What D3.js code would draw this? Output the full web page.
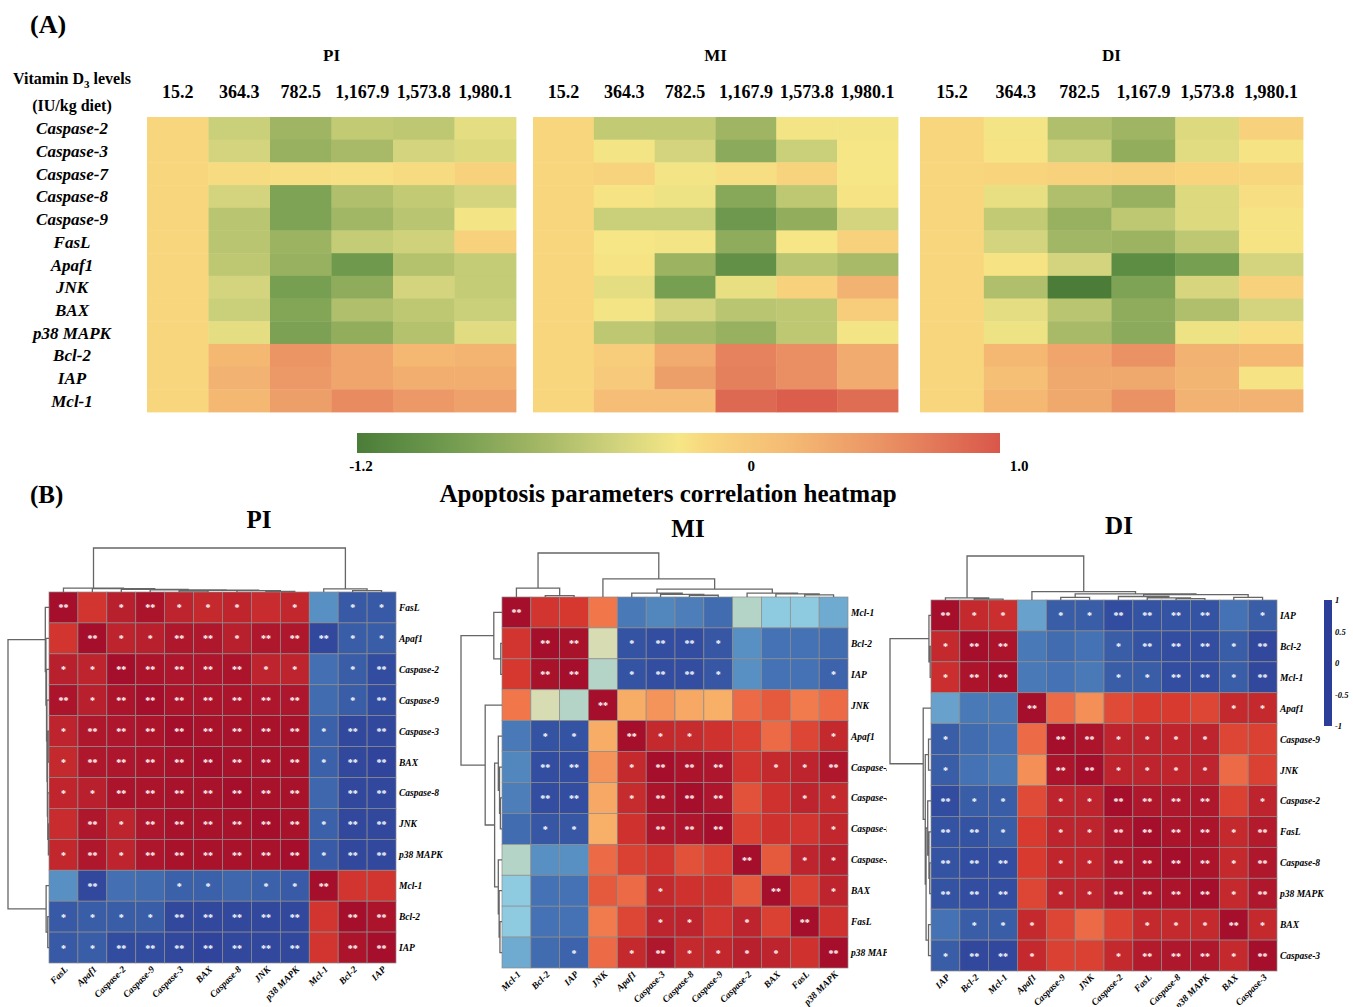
<!DOCTYPE html>
<html>
<head>
<meta charset="utf-8">
<script src="https://cdnjs.cloudflare.com/ajax/libs/d3/7.8.5/d3.min.js"></script>
<style>
  body { margin: 0; background: #fff; }
  text { font-family: "Liberation Serif", "Times New Roman", serif; }
</style>
</head>
<body>
<svg id="chart" width="1353" height="1007"></svg>
<script>
// ---------- Panel A data: relative expression by vitamin D3 level ----------
const vitLevels = ["15.2", "364.3", "782.5", "1,167.9", "1,573.8", "1,980.1"];
const genesA = ["Caspase-2", "Caspase-3", "Caspase-7", "Caspase-8", "Caspase-9", "FasL",
  "Apaf1", "JNK", "BAX", "p38 MAPK", "Bcl-2", "IAP", "Mcl-1"];
const groupsA = ["PI", "MI", "DI"];

const expPI = [
  [0, -0.35, -0.6, -0.4, -0.42, -0.2],
  [0, -0.3, -0.65, -0.55, -0.3, -0.25],
  [0, -0.03, -0.05, -0.06, -0.03, 0.05],
  [0, -0.3, -0.8, -0.5, -0.4, -0.3],
  [0, -0.45, -0.8, -0.58, -0.45, -0.12],
  [0, -0.45, -0.62, -0.38, -0.32, 0.05],
  [0, -0.42, -0.65, -0.9, -0.48, -0.38],
  [0, -0.3, -0.85, -0.7, -0.3, -0.38],
  [0, -0.35, -0.78, -0.5, -0.42, -0.35],
  [0, -0.2, -0.82, -0.68, -0.48, -0.22],
  [0, 0.3, 0.58, 0.45, 0.3, 0.33],
  [0, 0.35, 0.55, 0.45, 0.38, 0.38],
  [0, 0.3, 0.5, 0.65, 0.55, 0.48]
];
const expMI = [
  [0, -0.4, -0.4, -0.6, -0.12, -0.12],
  [0, -0.12, -0.3, -0.72, -0.35, -0.1],
  [0, 0.03, -0.12, -0.05, 0.03, -0.1],
  [0, -0.08, -0.15, -0.75, -0.42, -0.08],
  [0, -0.35, -0.35, -0.92, -0.68, -0.3],
  [0, -0.1, -0.12, -0.7, -0.1, 0.05],
  [0, -0.08, -0.62, -1.0, -0.45, -0.55],
  [0, -0.2, -0.85, -0.18, 0.05, 0.35],
  [0, -0.12, -0.3, -0.45, -0.42, 0.1],
  [0, -0.42, -0.55, -0.65, -0.42, -0.12],
  [0, 0.1, 0.4, 0.7, 0.62, 0.4],
  [0, 0.12, 0.5, 0.72, 0.62, 0.4],
  [0, 0.25, 0.25, 0.88, 0.95, 0.85]
];
const expDI = [
  [0, -0.12, -0.5, -0.6, -0.25, 0.05],
  [0, -0.08, -0.35, -0.68, -0.22, -0.08],
  [0, 0.02, 0.05, 0.06, 0.02, 0],
  [0, -0.18, -0.5, -0.65, -0.25, -0.05],
  [0, -0.4, -0.65, -0.42, -0.25, -0.08],
  [0, -0.3, -0.58, -0.62, -0.42, -0.08],
  [0, -0.08, -0.3, -1.05, -0.85, -0.3],
  [0, -0.5, -1.2, -0.8, -0.28, 0.05],
  [0, -0.2, -0.45, -0.7, -0.5, -0.3],
  [0, -0.15, -0.55, -0.72, -0.15, -0.05],
  [0, 0.3, 0.45, 0.6, 0.35, 0.3],
  [0, 0.22, 0.42, 0.42, 0.32, -0.08],
  [0, 0.3, 0.42, 0.6, 0.35, 0.35]
];
const expTicks = [-1.2, 0, 1.0];
const expTickLabels = ["-1.2", "0", "1.0"];

// ---------- Panel B data: correlation matrices ----------
const orderPI = ["FasL", "Apaf1", "Caspase-2", "Caspase-9", "Caspase-3", "BAX", "Caspase-8", "JNK", "p38 MAPK", "Mcl-1", "Bcl-2", "IAP"];
const corrPI = [
  [1, 0.78, 0.9, 0.97, 0.88, 0.85, 0.87, 0.83, 0.86, -0.62, -0.87, -0.87],
  [0.78, 1, 0.88, 0.9, 0.95, 0.95, 0.9, 0.95, 0.95, -0.95, -0.85, -0.85],
  [0.9, 0.88, 1, 0.97, 0.96, 0.96, 0.97, 0.88, 0.88, -0.76, -0.85, -0.93],
  [0.97, 0.9, 0.97, 1, 0.97, 0.97, 0.97, 0.96, 0.96, -0.78, -0.85, -0.93],
  [0.88, 0.95, 0.96, 0.97, 1, 0.98, 0.98, 0.98, 0.98, -0.83, -0.95, -0.95],
  [0.85, 0.95, 0.96, 0.97, 0.98, 1, 0.98, 0.98, 0.98, -0.83, -0.95, -0.97],
  [0.87, 0.9, 0.97, 0.97, 0.98, 0.98, 1, 0.98, 0.98, -0.8, -0.95, -0.95],
  [0.83, 0.95, 0.88, 0.96, 0.98, 0.98, 0.98, 1, 0.98, -0.83, -0.95, -0.95],
  [0.86, 0.95, 0.88, 0.96, 0.98, 0.98, 0.98, 0.98, 1, -0.86, -0.95, -0.95],
  [-0.62, -0.95, -0.76, -0.78, -0.83, -0.83, -0.8, -0.83, -0.86, 1, 0.78, 0.78],
  [-0.87, -0.85, -0.85, -0.85, -0.95, -0.95, -0.95, -0.95, -0.95, 0.78, 1, 0.97],
  [-0.87, -0.85, -0.93, -0.93, -0.95, -0.97, -0.95, -0.95, -0.95, 0.78, 0.97, 1]
];
const sigPI = [
  ["**", "", "*", "**", "*", "*", "*", "", "*", "", "*", "*"],
  ["", "**", "*", "*", "**", "**", "*", "**", "**", "**", "*", "*"],
  ["*", "*", "**", "**", "**", "**", "**", "*", "*", "", "*", "**"],
  ["**", "*", "**", "**", "**", "**", "**", "**", "**", "", "*", "**"],
  ["*", "**", "**", "**", "**", "**", "**", "**", "**", "*", "**", "**"],
  ["*", "**", "**", "**", "**", "**", "**", "**", "**", "*", "**", "**"],
  ["*", "*", "**", "**", "**", "**", "**", "**", "**", "", "**", "**"],
  ["", "**", "*", "**", "**", "**", "**", "**", "**", "*", "**", "**"],
  ["*", "**", "*", "**", "**", "**", "**", "**", "**", "*", "**", "**"],
  ["", "**", "", "", "*", "*", "", "*", "*", "**", "", ""],
  ["*", "*", "*", "*", "**", "**", "**", "**", "**", "", "**", "**"],
  ["*", "*", "**", "**", "**", "**", "**", "**", "**", "", "**", "**"]
];
const treePI = [1.0,
  [0.09, "FasL", [0.075, "Apaf1", [0.06, "Caspase-2", [0.05, "Caspase-9",
    [0.04, [0.02, "Caspase-3", "BAX"], [0.03, "Caspase-8", [0.015, "JNK", "p38 MAPK"]]]]]]],
  [0.07, "Mcl-1", [0.03, "Bcl-2", "IAP"]]];

const orderMI = ["Mcl-1", "Bcl-2", "IAP", "JNK", "Apaf1", "Caspase-3", "Caspase-8", "Caspase-9", "Caspase-2", "BAX", "FasL", "p38 MAPK"];
const corrMI = [
  [1, 0.78, 0.76, 0.5, -0.72, -0.66, -0.7, -0.78, -0.25, -0.4, -0.4, -0.52],
  [0.78, 1, 0.98, -0.12, -0.9, -0.92, -0.92, -0.88, -0.62, -0.75, -0.75, -0.78],
  [0.76, 0.98, 1, -0.25, -0.9, -0.92, -0.92, -0.88, -0.62, -0.75, -0.75, -0.82],
  [0.5, -0.12, -0.25, 1, 0.28, 0.38, 0.3, 0.27, 0.55, 0.62, 0.48, 0.55],
  [-0.72, -0.9, -0.9, 0.28, 1, 0.85, 0.84, 0.8, 0.72, 0.55, 0.7, 0.85],
  [-0.66, -0.92, -0.92, 0.38, 0.85, 1, 0.97, 0.96, 0.78, 0.85, 0.88, 0.95],
  [-0.7, -0.92, -0.92, 0.3, 0.84, 0.97, 1, 0.96, 0.65, 0.8, 0.88, 0.85],
  [-0.78, -0.88, -0.88, 0.27, 0.8, 0.96, 0.96, 1, 0.72, 0.8, 0.78, 0.86],
  [-0.25, -0.62, -0.62, 0.55, 0.72, 0.78, 0.65, 0.72, 1, 0.62, 0.88, 0.9],
  [-0.4, -0.75, -0.75, 0.62, 0.55, 0.85, 0.8, 0.8, 0.62, 1, 0.72, 0.88],
  [-0.4, -0.75, -0.75, 0.48, 0.7, 0.88, 0.88, 0.78, 0.88, 0.72, 1, 0.8],
  [-0.52, -0.78, -0.82, 0.55, 0.85, 0.95, 0.85, 0.86, 0.9, 0.88, 0.8, 1]
];
const sigMI = [
  ["**", "", "", "", "", "", "", "", "", "", "", ""],
  ["", "**", "**", "", "*", "**", "**", "*", "", "", "", ""],
  ["", "**", "**", "", "*", "**", "**", "*", "", "", "", "*"],
  ["", "", "", "**", "", "", "", "", "", "", "", ""],
  ["", "*", "*", "", "**", "*", "*", "", "", "", "", "*"],
  ["", "**", "**", "", "*", "**", "**", "**", "", "*", "*", "**"],
  ["", "**", "**", "", "*", "**", "**", "**", "", "", "*", "*"],
  ["", "*", "*", "", "", "**", "**", "**", "", "", "", "*"],
  ["", "", "", "", "", "", "", "", "**", "", "*", "*"],
  ["", "", "", "", "", "*", "", "", "", "**", "", "*"],
  ["", "", "", "", "", "*", "*", "", "*", "", "**", ""],
  ["", "", "*", "", "*", "**", "*", "*", "*", "*", "", "**"]
];
const treeMI = [1.0,
  [0.2, "Mcl-1", [0.03, "Bcl-2", "IAP"]],
  [0.41, "JNK", [0.18,
    [0.09, "Apaf1", [0.06, "Caspase-3", [0.04, "Caspase-8", "Caspase-9"]]],
    [0.09, "Caspase-2", [0.07, "BAX", [0.05, "FasL", "p38 MAPK"]]]]]];

const orderDI = ["IAP", "Bcl-2", "Mcl-1", "Apaf1", "Caspase-9", "JNK", "Caspase-2", "FasL", "Caspase-8", "p38 MAPK", "BAX", "Caspase-3"];
const corrDI = [
  [1, 0.85, 0.82, -0.55, -0.85, -0.85, -0.93, -0.9, -0.9, -0.9, -0.75, -0.85],
  [0.85, 1, 0.97, -0.72, -0.78, -0.75, -0.85, -0.9, -0.92, -0.92, -0.85, -0.95],
  [0.82, 0.97, 1, -0.72, -0.75, -0.72, -0.85, -0.85, -0.92, -0.92, -0.85, -0.95],
  [-0.55, -0.72, -0.72, 1, 0.55, 0.4, 0.68, 0.75, 0.75, 0.7, 0.85, 0.85],
  [-0.85, -0.78, -0.75, 0.55, 1, 0.97, 0.88, 0.88, 0.87, 0.88, 0.7, 0.72],
  [-0.85, -0.75, -0.72, 0.4, 0.97, 1, 0.88, 0.88, 0.87, 0.88, 0.55, 0.72],
  [-0.93, -0.85, -0.85, 0.68, 0.88, 0.88, 1, 0.95, 0.95, 0.95, 0.72, 0.88],
  [-0.9, -0.9, -0.85, 0.75, 0.88, 0.88, 0.95, 1, 0.97, 0.97, 0.85, 0.93],
  [-0.9, -0.92, -0.92, 0.75, 0.87, 0.87, 0.95, 0.97, 1, 0.97, 0.85, 0.95],
  [-0.9, -0.92, -0.92, 0.7, 0.88, 0.88, 0.95, 0.97, 0.97, 1, 0.85, 0.95],
  [-0.75, -0.85, -0.85, 0.85, 0.7, 0.55, 0.72, 0.85, 0.85, 0.85, 1, 0.85],
  [-0.85, -0.95, -0.95, 0.85, 0.72, 0.72, 0.85, 0.93, 0.95, 0.95, 0.85, 1]
];
const sigDI = [
  ["**", "*", "*", "", "*", "*", "**", "**", "**", "**", "", "*"],
  ["*", "**", "**", "", "", "", "*", "**", "**", "**", "*", "**"],
  ["*", "**", "**", "", "", "", "*", "*", "**", "**", "*", "**"],
  ["", "", "", "**", "", "", "", "", "", "", "*", "*"],
  ["*", "", "", "", "**", "**", "*", "*", "*", "*", "", ""],
  ["*", "", "", "", "**", "**", "*", "*", "*", "*", "", ""],
  ["**", "*", "*", "", "*", "*", "**", "**", "**", "**", "", "*"],
  ["**", "**", "*", "", "*", "*", "**", "**", "**", "**", "*", "**"],
  ["**", "**", "**", "", "*", "*", "**", "**", "**", "**", "*", "**"],
  ["**", "**", "**", "", "*", "*", "**", "**", "**", "**", "*", "**"],
  ["", "*", "*", "*", "", "", "", "*", "*", "*", "**", "*"],
  ["*", "**", "**", "*", "", "", "*", "**", "**", "**", "*", "**"]
];
const treeDI = [1.0,
  [0.05, "IAP", [0.02, "Bcl-2", "Mcl-1"]],
  [0.19, "Apaf1", [0.14, [0.06, "Caspase-9", "JNK"],
    [0.12, [0.08, "Caspase-2", [0.05, "FasL", [0.03, "Caspase-8", "p38 MAPK"]]],
      [0.06, "BAX", "Caspase-3"]]]]];
const corrTicks = [1, 0.5, 0, -0.5, -1];

// ---------- colour scales ----------
const colorA = d3.scaleLinear()
  .domain([-1.2, -0.9, -0.6, -0.3, -0.1, 0, 0.3, 0.6, 1.0])
  .range(["#4b7d38", "#6f9a4e", "#9fb563", "#d3d47d", "#f6e686", "#f8d67e", "#f4b873", "#ea9264", "#d9574a"]);

const colorB = d3.scaleLinear()
  .domain([-1, -0.8, -0.6, -0.4, 0, 0.25, 0.5, 0.75, 1])
  .range(["#2c3e97", "#3e67ae", "#5b94c5", "#8ecbe0", "#f7e3a0", "#f9b46b", "#f1764a", "#d83a2f", "#a50f2b"]);

const svg = d3.select("#chart");
const defs = svg.append("defs");

// =======================================================
// PANEL A
// =======================================================
svg.append("text").attr("x", 30).attr("y", 33)
  .style("font-size", "26px").style("font-weight", "bold").text("(A)");

const groupRange = { PI: [147, 516], MI: [533, 898], DI: [920, 1303] };
const expData = { PI: expPI, MI: expMI, DI: expDI };
const yA = d3.scaleBand().domain(genesA).range([117, 412]);

groupsA.forEach(g => {
  const x = d3.scaleBand().domain(vitLevels).range(groupRange[g]);
  const cells = genesA.flatMap((gene, i) =>
    vitLevels.map((lv, j) => ({ gene, lv, val: expData[g][i][j] })));

  svg.append("g").selectAll("rect").data(cells).join("rect")
    .attr("x", d => x(d.lv))
    .attr("y", d => yA(d.gene))
    .attr("width", x.bandwidth() + 0.4)
    .attr("height", yA.bandwidth() + 0.4)
    .attr("fill", d => colorA(d.val));

  svg.append("g").selectAll("text").data(vitLevels).join("text")
    .attr("x", d => x(d) + x.bandwidth() / 2)
    .attr("y", 98)
    .attr("text-anchor", "middle")
    .style("font-size", "18px").style("font-weight", "bold")
    .text(d => d);

  svg.append("text")
    .attr("x", d3.mean(groupRange[g]))
    .attr("y", 61)
    .attr("text-anchor", "middle")
    .style("font-size", "17px").style("font-weight", "bold")
    .text(g);
});

// etiquetas de filas
svg.append("g").selectAll("text").data(genesA).join("text")
  .attr("x", 72)
  .attr("y", d => yA(d) + yA.bandwidth() / 2 + 6)
  .attr("text-anchor", "middle")
  .style("font-size", "17px").style("font-weight", "bold").style("font-style", "italic")
  .text(d => d);

const vit = svg.append("text").attr("x", 72).attr("y", 84).attr("text-anchor", "middle")
  .style("font-size", "16px").style("font-weight", "bold");
vit.append("tspan").text("Vitamin D");
vit.append("tspan").attr("dy", 4).style("font-size", "11px").text("3");
vit.append("tspan").attr("dy", -4).text(" levels");
svg.append("text").attr("x", 72).attr("y", 111).attr("text-anchor", "middle")
  .style("font-size", "16px").style("font-weight", "bold").text("(IU/kg diet)");

// barra de color A
const barA = { x: 357, y: 433, w: 643, h: 20 };
const gradA = defs.append("linearGradient").attr("id", "gradA");
const gPos = d3.scaleLinear().domain([-1.2, 1.0]).range([0, 1]);
gradA.selectAll("stop").data(colorA.domain()).join("stop")
  .attr("offset", d => gPos(d))
  .attr("stop-color", d => colorA(d));
svg.append("rect").attr("x", barA.x).attr("y", barA.y)
  .attr("width", barA.w).attr("height", barA.h).attr("fill", "url(#gradA)");
const tickA = d3.scaleLinear().domain(expTicks).range([barA.x + 4, barA.x + barA.w * 0.613, barA.x + barA.w + 19]);
svg.append("g").selectAll("text").data(expTicks).join("text")
  .attr("x", d => tickA(d))
  .attr("y", 471)
  .attr("text-anchor", "middle")
  .style("font-size", "15px").style("font-weight", "bold")
  .text((d, i) => expTickLabels[i]);

// =======================================================
// PANEL B
// =======================================================
svg.append("text").attr("x", 30).attr("y", 503)
  .style("font-size", "25px").style("font-weight", "bold").text("(B)");
svg.append("text").attr("x", 668).attr("y", 502).attr("text-anchor", "middle")
  .style("font-size", "25px").style("font-weight", "bold")
  .text("Apoptosis parameters correlation heatmap");

function toNode(t) {
  return typeof t === "string"
    ? { name: t, h: 0 }
    : { h: t[0], children: [toNode(t[1]), toNode(t[2])] };
}

// dibuja un dendrograma; pos = posición de la hoja, hPix = altura en píxeles
function dendroPath(root, leafPos, hPix, horizontal) {
  root.eachAfter(n => {
    n.p = n.children ? d3.mean(n.children, c => c.p) : leafPos(n.data.name);
    n.hp = hPix(n.data.h);
  });
  const pts = [];
  root.each(n => {
    if (!n.children) return;
    const [a, b] = n.children;
    pts.push(horizontal
      ? `M${a.p},${a.hp}V${n.hp}H${b.p}V${b.hp}`
      : `M${a.hp},${a.p}H${n.hp}V${b.p}H${b.hp}`);
  });
  return pts.join("");
}

function pintarCorrelacion(cfg) {
  const { order, corr, sig, tree, x0, x1, y0, y1, title, titleX, titleY, clipX } = cfg;
  const g = svg.append("g");
  const x = d3.scaleBand().domain(order).range([x0, x1]);
  const y = d3.scaleBand().domain(order).range([y0, y1]);

  const cells = order.flatMap((r, i) => order.map((c, j) => ({ r, c, v: corr[i][j], s: sig[i][j] })));

  g.append("g").selectAll("rect").data(cells).join("rect")
    .attr("x", d => x(d.c)).attr("y", d => y(d.r))
    .attr("width", x.bandwidth()).attr("height", y.bandwidth())
    .attr("fill", d => colorB(d.v))
    .attr("stroke", "#8c8c8c").attr("stroke-width", 0.7);

  g.append("g").selectAll("text").data(cells.filter(d => d.s)).join("text")
    .attr("x", d => x(d.c) + x.bandwidth() / 2)
    .attr("y", d => y(d.r) + y.bandwidth() / 2 + 4)
    .attr("text-anchor", "middle")
    .attr("fill", "#fff")
    .style("font-size", "10px").style("font-weight", "bold")
    .text(d => d.s);

  // etiquetas de filas (derecha)
  let rowG = g.append("g");
  if (clipX) {
    const id = "clip-" + title;
    defs.append("clipPath").attr("id", id).append("rect")
      .attr("x", 0).attr("y", 0).attr("width", clipX).attr("height", 1007);
    rowG.attr("clip-path", `url(#${id})`);
  }
  rowG.selectAll("text").data(order).join("text")
    .attr("x", x1 + 3)
    .attr("y", d => y(d) + y.bandwidth() / 2 + 3.5)
    .style("font-size", "9.5px").style("font-weight", "bold").style("font-style", "italic")
    .text(d => d);

  // etiquetas de columnas (abajo, giradas)
  g.append("g").selectAll("text").data(order).join("text")
    .attr("transform", d => `translate(${x(d) + x.bandwidth() / 2 + 5},${y1 + 7}) rotate(-45)`)
    .attr("text-anchor", "end")
    .style("font-size", "9.5px").style("font-weight", "bold").style("font-style", "italic")
    .text(d => d);

  // dendrogramas
  const topH = d3.scaleLinear().domain([0, 1]).range([y0, y0 - 44]);
  g.append("path")
    .attr("d", dendroPath(d3.hierarchy(toNode(tree)), n => x(n) + x.bandwidth() / 2, topH, true))
    .attr("fill", "none").attr("stroke", "#666").attr("stroke-width", 1.3);
  const leftH = d3.scaleLinear().domain([0, 1]).range([x0, x0 - 41]);
  g.append("path")
    .attr("d", dendroPath(d3.hierarchy(toNode(tree)), n => y(n) + y.bandwidth() / 2, leftH, false))
    .attr("fill", "none").attr("stroke", "#666").attr("stroke-width", 1.3);

  svg.append("text")
    .attr("x", titleX)
    .attr("y", titleY)
    .attr("text-anchor", "middle")
    .style("font-size", "25px").style("font-weight", "bold")
    .text(title);
}

pintarCorrelacion({ order: orderPI, corr: corrPI, sig: sigPI, tree: treePI,
  x0: 49, x1: 396, y0: 592, y1: 963, title: "PI", titleX: 259, titleY: 528 });
pintarCorrelacion({ order: orderMI, corr: corrMI, sig: sigMI, tree: treeMI,
  x0: 502, x1: 848, y0: 597, y1: 968, title: "MI", titleX: 688, titleY: 537, clipX: 887 });
pintarCorrelacion({ order: orderDI, corr: corrDI, sig: sigDI, tree: treeDI,
  x0: 931, x1: 1277, y0: 600, y1: 971, title: "DI", titleX: 1119, titleY: 534 });

// leyenda vertical de correlación
const barB = { x: 1324, y: 600, w: 8, h: 126 };
const gradB = defs.append("linearGradient").attr("id", "gradB")
  .attr("x1", 0).attr("y1", 0).attr("x2", 0).attr("y2", 1);
const vPos = d3.scaleLinear().domain([1, -1]).range([0, 1]);
gradB.selectAll("stop").data(colorB.domain()).join("stop")
  .attr("offset", d => vPos(d))
  .attr("stop-color", d => colorB(d));
svg.append("rect").attr("x", barB.x).attr("y", barB.y)
  .attr("width", barB.w).attr("height", barB.h).attr("fill", "url(#gradB)");
const tickB = d3.scaleLinear().domain([1, -1]).range([barB.y, barB.y + barB.h]);
svg.append("g").selectAll("text").data(corrTicks).join("text")
  .attr("x", barB.x + barB.w + 3)
  .attr("y", d => tickB(d) + 3)
  .style("font-size", "8.5px").style("font-weight", "bold").style("font-style", "italic")
  .text(d => d);
</script>
</body>
</html>
